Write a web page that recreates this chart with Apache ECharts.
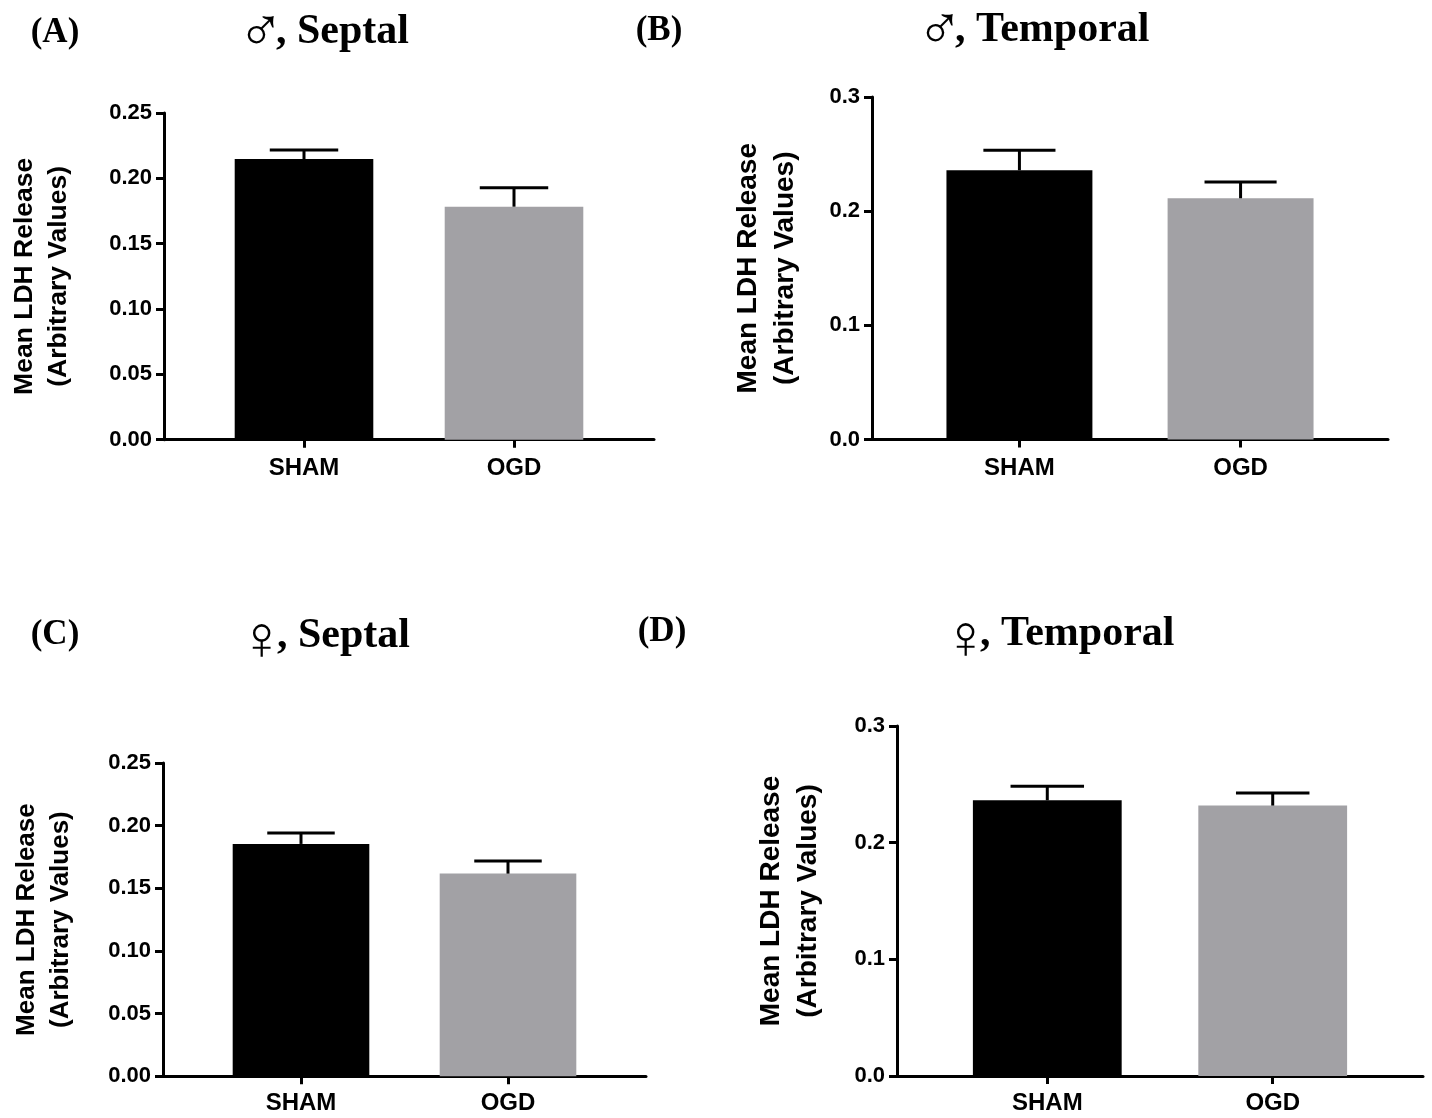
<!DOCTYPE html>
<html>
<head>
<meta charset="utf-8">
<script src="https://cdn.jsdelivr.net/npm/echarts@6/dist/echarts.min.js"></script>
<style>
html,body{margin:0;padding:0;background:#fff;}
#chart{width:1432px;height:1118px;}
</style>
</head>
<body>
<div id="chart"></div>
<script>
// ---- data ----
const categories = ['SHAM', 'OGD'];
// (A) male, septal
const meanA = [0.2148, 0.1783];
const semA  = [0.0069, 0.0145];
// (B) male, temporal
const meanB = [0.2358, 0.2113];
const semB  = [0.0175, 0.0143];
// (C) female, septal
const meanC = [0.1854, 0.1617];
const semC  = [0.0088, 0.0101];
// (D) female, temporal
const meanD = [0.2363, 0.2318];
const semD  = [0.0120, 0.0108];

const septalTicks = { max: 0.25, interval: 0.05, decimals: 2 };
const temporalTicks = { max: 0.3, interval: 0.1, decimals: 1 };
const yTitle = 'Mean LDH Release\n(Arbitrary Values)';
const panelLetters = ['(A)', '(B)', '(C)', '(D)'];
const sexSymbols = ['\u2642', '\u2642', '\u2640', '\u2640'];
const regionTitles = [', Septal', ', Temporal', ', Septal', ', Temporal'];

// ---- styles / layout ----
const barColors = ['#000000', '#a2a1a5'];
const XMIN = 1 / 3, XMAX = 8 / 3;
const panels = [
  { mean: meanA, sem: semA, ticks: septalTicks, grid: { left: 164, top: 113, width: 490, height: 326.7 },
    nameGap: 88.5, nameSize: 26.5, nameLH: 34, catMargin: 17 },
  { mean: meanB, sem: semB, ticks: temporalTicks, grid: { left: 872, top: 97, width: 516, height: 342.5 },
    nameGap: 68.5, nameSize: 28, nameLH: 37, catMargin: 17 },
  { mean: meanC, sem: semC, ticks: septalTicks, grid: { left: 163, top: 763, width: 483, height: 313.2 },
    nameGap: 85.5, nameSize: 26, nameLH: 34, catMargin: 15 },
  { mean: meanD, sem: semD, ticks: temporalTicks, grid: { left: 897, top: 726, width: 526, height: 350 },
    nameGap: 70, nameSize: 28, nameLH: 37, catMargin: 15 }
];
// lx/ly: panel letter centre; cx: comma start; sx: symbol right anchor; ty: title middle; sy: symbol middle
const titlePos = [
  { lx: 55, ly: 33, cx: 276, sx: 284, ty: 32, sy: 35 },
  { lx: 659, ly: 31, cx: 955, sx: 963, ty: 30, sy: 33 },
  { lx: 55, ly: 635, cx: 277, sx: 285, ty: 636, sy: 643 },
  { lx: 662, ly: 632, cx: 980, sx: 989, ty: 634, sy: 642 }
];

const grids = [], xAxes = [], yAxes = [], series = [];
panels.forEach((p, i) => {
  grids.push(p.grid);
  const unit = p.grid.width / (XMAX - XMIN);
  xAxes.push({
    type: 'value', gridIndex: i, min: XMIN, max: XMAX,
    splitLine: { show: false },
    axisLine: { show: true, onZero: false, lineStyle: { color: '#000', width: 3 } },
    axisTick: { show: true, customValues: [1, 2], length: 8, lineStyle: { color: '#000', width: 3 } },
    axisLabel: {
      customValues: [1, 2], margin: p.catMargin,
      formatter: v => categories[Math.round(v) - 1] || '',
      fontFamily: 'Liberation Sans', fontWeight: 'bold', fontSize: 24, color: '#000'
    }
  });
  yAxes.push({
    type: 'value', gridIndex: i, min: 0, max: p.ticks.max, interval: p.ticks.interval,
    splitLine: { show: false },
    axisLine: { show: true, onZero: false, lineStyle: { color: '#000', width: 3 } },
    axisTick: { show: true, length: 8, lineStyle: { color: '#000', width: 3 } },
    axisLabel: {
      margin: 12, formatter: v => v.toFixed(p.ticks.decimals),
      fontFamily: 'Liberation Sans', fontWeight: 'bold', fontSize: 22, color: '#000'
    },
    name: yTitle, nameLocation: 'middle', nameRotate: 90, nameGap: p.nameGap,
    nameTextStyle: { fontFamily: 'Liberation Sans', fontWeight: 'bold', fontSize: p.nameSize, lineHeight: p.nameLH, color: '#000', align: 'center' }
  });
  series.push({
    type: 'bar', xAxisIndex: i, yAxisIndex: i,
    barWidth: unit * 0.66,
    data: categories.map((c, k) => ({ value: [k + 1, p.mean[k]], itemStyle: { color: barColors[k] } })),
    silent: true
  });
  series.push({
    type: 'custom', xAxisIndex: i, yAxisIndex: i, z: 3,
    data: categories.map((c, k) => [k + 1, p.mean[k], p.sem[k]]),
    renderItem: (params, api) => {
      const x = api.value(0), m = api.value(1), e = api.value(2);
      const base = api.coord([x, m]);
      const top = api.coord([x, m + e]);
      const hw = api.size([0.326, 0])[0] / 2;
      const st = { stroke: '#000', lineWidth: 3 };
      return {
        type: 'group', children: [
          { type: 'line', shape: { x1: base[0], y1: base[1], x2: top[0], y2: top[1] }, style: st },
          { type: 'line', shape: { x1: top[0] - hw, y1: top[1], x2: top[0] + hw, y2: top[1] }, style: st }
        ]
      };
    },
    silent: true
  });
});

const graphics = [];
titlePos.forEach((t, i) => {
  graphics.push({
    type: 'text', x: t.lx, y: t.ly,
    style: { text: panelLetters[i], font: 'bold 35px "Liberation Serif"', fill: '#000', align: 'center', verticalAlign: 'middle' }
  });
  graphics.push({
    type: 'text', x: t.sx, y: t.sy,
    style: { text: sexSymbols[i], font: 'normal 62px "Liberation Serif"', fill: '#000', align: 'right', verticalAlign: 'middle' }
  });
  graphics.push({
    type: 'text', x: t.cx, y: t.ty,
    style: { text: regionTitles[i], font: 'bold 42px "Liberation Serif"', fill: '#000', align: 'left', verticalAlign: 'middle' }
  });
});

const chart = echarts.init(document.getElementById('chart'), null, { renderer: 'canvas' });
chart.setOption({
  backgroundColor: '#fff',
  animation: false,
  grid: grids,
  xAxis: xAxes,
  yAxis: yAxes,
  series: series,
  graphic: graphics
});
</script>
</body>
</html>
